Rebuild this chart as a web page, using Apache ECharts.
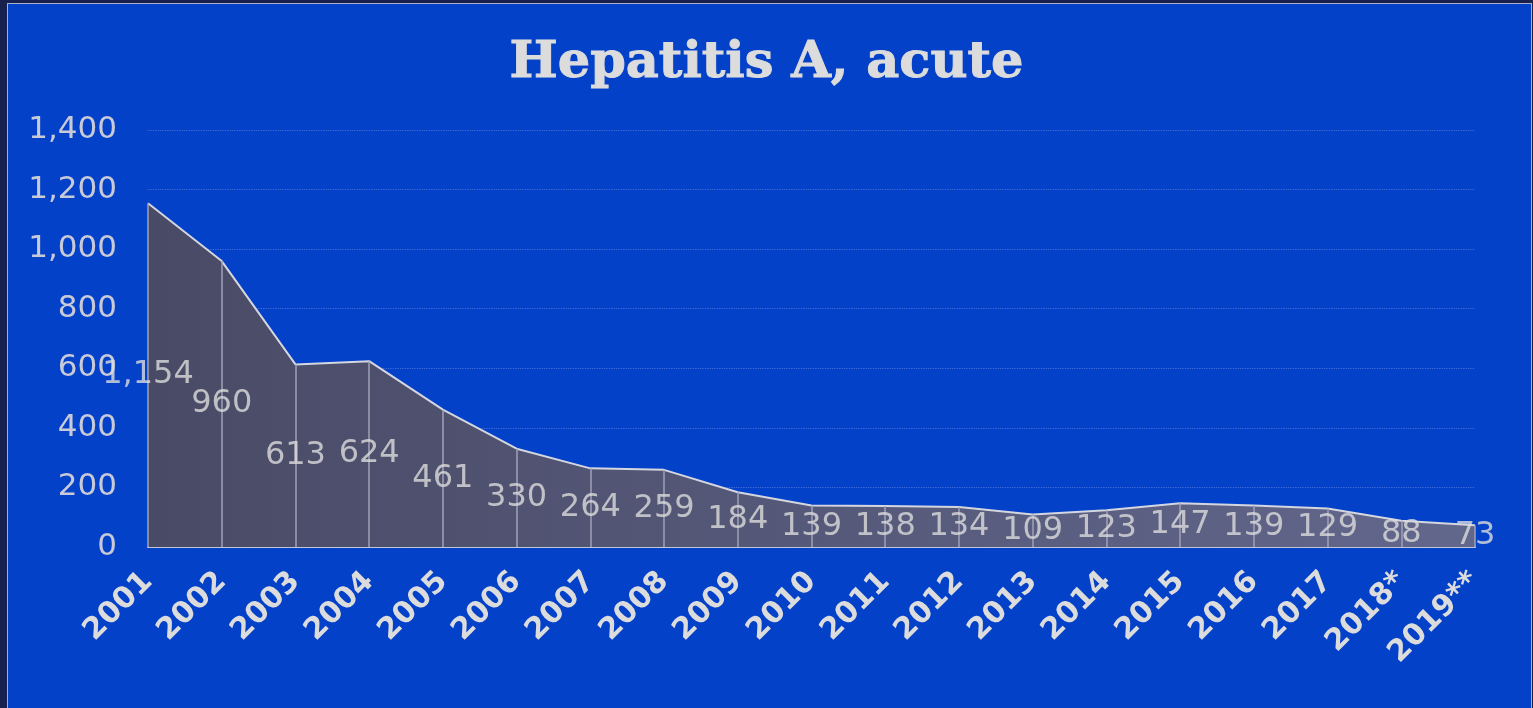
<!DOCTYPE html>
<html>
<head>
<meta charset="utf-8">
<script src="https://cdn.jsdelivr.net/npm/echarts@6/dist/echarts.min.js"></script>
<style>
  html, body { margin: 0; padding: 0; background: #18214d; }
  .frame {
    position: absolute; left: 7px; top: 3px; width: 1523px; height: 710px;
    background: #0441c9; border: 1px solid #aab0c8;
  }
  #chart { position: absolute; left: 0; top: 0; width: 1533px; height: 708px; }
</style>
</head>
<body>
<div class="frame"></div>
<div id="chart"></div>
<script>
// 年份与病例数
const years = ['2001', '2002', '2003', '2004', '2005', '2006', '2007', '2008', '2009', '2010',
  '2011', '2012', '2013', '2014', '2015', '2016', '2017', '2018*', '2019**']
const cases = [1154, 960, 613, 624, 461, 330, 264, 259, 184, 139,
  138, 134, 109, 123, 147, 139, 129, 88, 73]
const yTicks = [0, 200, 400, 600, 800, 1000, 1200, 1400]

const fmt = v => v.toLocaleString('en-US')

const chart = echarts.init(document.getElementById('chart'))
const option = {
  backgroundColor: 'transparent',
  animation: false,
  title: {
    text: 'Hepatitis A, acute',
    left: 'center',
    top: 33,
    textStyle: {
      fontFamily: 'DejaVu Serif',
      fontWeight: 900,
      fontSize: 51,
      color: '#dcdcdc',
      textBorderColor: '#dcdcdc',
      textBorderWidth: 1
    }
  },
  grid: { left: 148, right: 58, top: 130, bottom: 161 },
  xAxis: {
    type: 'category',
    data: years,
    boundaryGap: false,
    axisTick: { show: false },
    axisLine: { lineStyle: { color: '#c4c6d2', width: 2 } },
    axisLabel: {
      rotate: 45,
      margin: 30,
      interval: 0,
      color: '#dcdcdc',
      fontFamily: 'DejaVu Sans',
      fontWeight: 'bold',
      fontSize: 30
    }
  },
  yAxis: {
    type: 'value',
    min: yTicks[0],
    max: yTicks[yTicks.length - 1],
    interval: 200,
    axisLine: { show: false },
    axisTick: { show: false },
    axisLabel: {
      margin: 31,
      color: '#c8cad8',
      fontFamily: 'DejaVu Sans',
      fontSize: 31,
      formatter: v => fmt(v)
    },
    splitLine: { lineStyle: { color: '#4a6fd2', type: 'dotted', width: 1.2 } }
  },
  series: [
    {
      type: 'line',
      data: cases,
      symbol: 'none',
      lineStyle: { color: '#d4d6e0', width: 2 },
      areaStyle: {
        opacity: 1,
        color: new echarts.graphic.LinearGradient(0, 0, 1, 0, [
          { offset: 0, color: '#494b66' },
          { offset: 1, color: '#62678c' }
        ])
      },
      markLine: {
        silent: true,
        symbol: ['none', 'none'],
        label: { show: false },
        lineStyle: { color: '#a0a2b8', width: 1.5, type: 'solid' },
        data: cases.map((v, i) => [
          { coord: [i, 0] },
          { coord: [i, v] }
        ])
      },
      z: 2
    },
    {
      // 数值标签放在面积的一半高度
      type: 'scatter',
      data: cases.map((v, i) => [i, v / 2, v]),
      symbolSize: 0,
      label: {
        show: true,
        position: 'inside',
        color: '#dcdcdc',
        fontFamily: 'DejaVu Sans',
        fontSize: 32,
        formatter: p => fmt(p.data[2])
      },
      z: 5
    }
  ]
}
chart.setOption(option)
</script>
</body>
</html>
